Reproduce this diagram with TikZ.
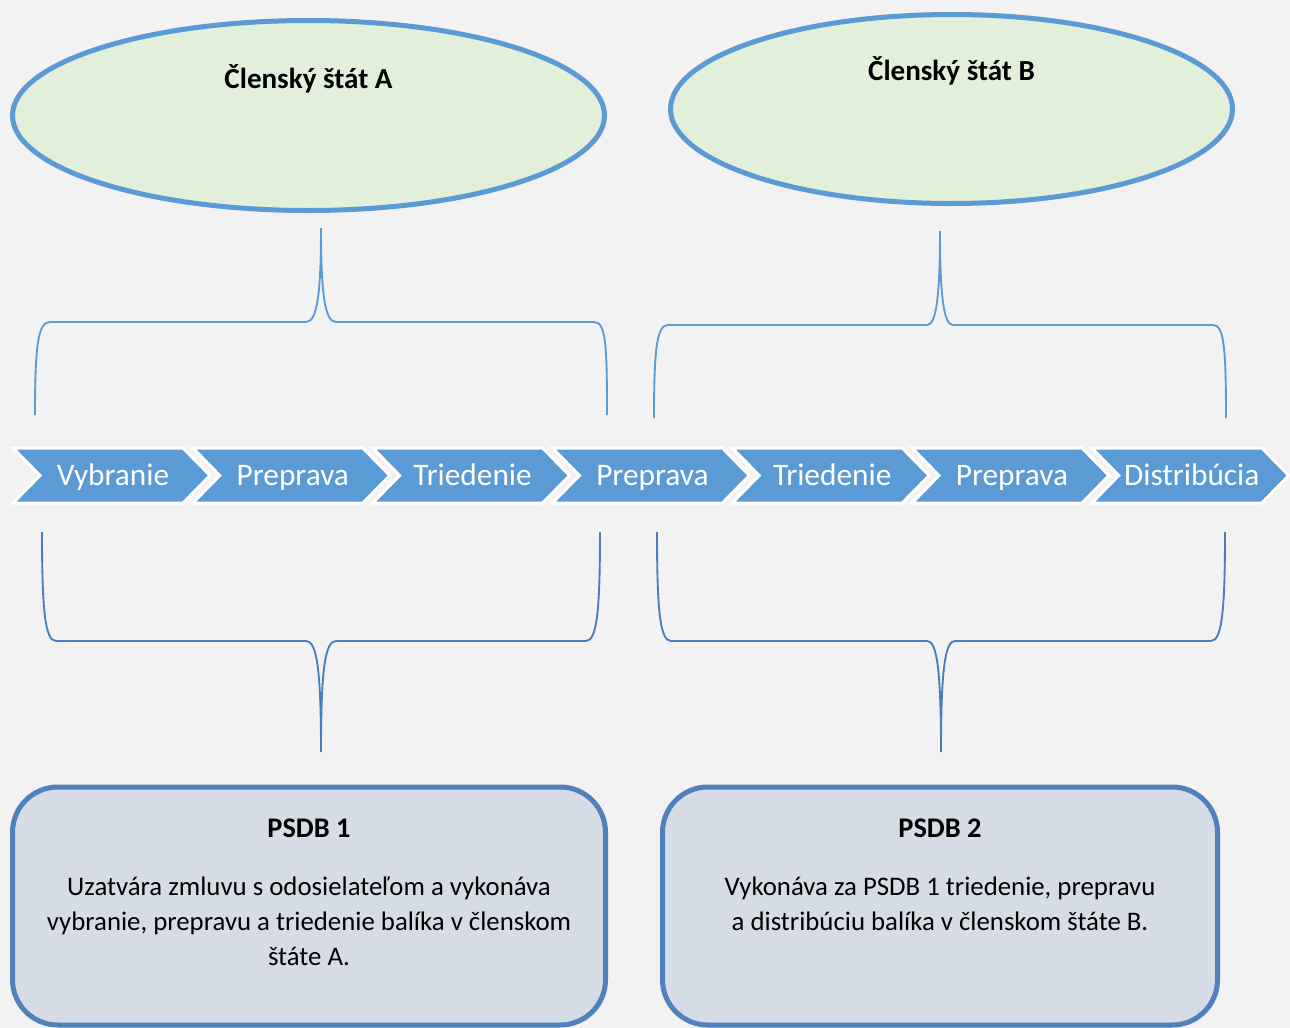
\documentclass[tikz,border=0pt]{standalone}
\usepackage{fontspec}
\setmainfont{Carlito}
\usetikzlibrary{positioning, shapes.geometric, shadows}
\definecolor{bgcol}{HTML}{F2F2F2}
\definecolor{chevblue}{HTML}{5B9BD5}
\definecolor{statefill}{HTML}{E2EFDA}
\definecolor{boxfill}{HTML}{D6DCE5}
\definecolor{boxline}{HTML}{4F81BD}
\definecolor{bracedark}{HTML}{4A7EBB}
\tikzset{%
	state/.style={draw=chevblue, line width=3.75pt, ellipse, fill=statefill, inner sep=0mm},
	statetext/.style={font=\fontsize{21.8}{26}\selectfont\bfseries, anchor=base},
	chev/.style={fill=chevblue, draw=white, line width=2.25pt, line join=miter},
	chevtext/.style={text=white, font=\fontsize{23.5}{28}\selectfont, anchor=base},
	psdb/.style={draw=boxline, line width=3.75pt, rectangle, rounded corners=34pt, fill=boxfill,%
		drop shadow={shadow xshift=1.5pt, shadow yshift=-1.5pt, opacity=0.25}},
	psdbtitle/.style={font=\fontsize{21.3}{26}\selectfont\bfseries, anchor=base},
	psdbtext/.style={font=\fontsize{20.1}{26.25}\selectfont, align=center},
	bracetop/.style={draw=chevblue, line width=1.4pt},
	bracebot/.style={draw=bracedark, line width=1.4pt}
}
\begin{document}
\begin{tikzpicture}[x=0.75pt, y=-0.75pt]
	\useasboundingbox (0,0) rectangle (1290,1028);
	\fill[bgcol] (0,0) rectangle (1290,1028);

	% member states
	\node[state, minimum width=444pt, minimum height=142.5pt] (stA) at (308.5,115.5) {};
	\node[state, minimum width=421.5pt, minimum height=141.75pt] (stB) at (951.5,109) {};
	\node[statetext] (stAt) at ([yshift=20.6pt]stA.center) {Členský štát A};
	\node[statetext] (stBt) at ([yshift=21.75pt]stB.center) {Členský štát B};

	% process steps
	\foreach \lab [count=\i from 0] in {Vybranie, Preprava, Triedenie, Preprava, Triedenie, Preprava, Distribúcia}{
		\pgfmathsetmacro{\xa}{13+179.8*\i}
		\draw[chev] (\xa,448) -- ++(170,0) -- ++(27,27.5) -- ++(-27,27.5) -- ++(-170,0) -- ++(27,-27.5) -- cycle;
		\node[chevtext] (ch\i) at (\xa+100,485) {\lab};
	}

	% braces
	\draw[bracetop] (35,415) .. controls (35,345) and (38,322) .. (50,322) -- (306,322)
		.. controls (317,322) and (321,295) .. (321,228) .. controls (321,295) and (325,322) .. (336,322)
		-- (594,322) .. controls (606,322) and (607,345) .. (607,415);
	\draw[bracetop] (654,418) .. controls (654,348) and (657,325) .. (668,325) -- (927,325)
		.. controls (936,325) and (940,298) .. (940,231) .. controls (940,298) and (944,325) .. (953,325)
		-- (1213,325) .. controls (1224,325) and (1226,348) .. (1226,418);
	\draw[bracebot] (42,532) .. controls (42,610) and (45,641) .. (56,641) -- (306,641)
		.. controls (317,641) and (321,670) .. (321,752) .. controls (321,670) and (325,641) .. (336,641)
		-- (586,641) .. controls (597,641) and (600,610) .. (600,532);
	\draw[bracebot] (657,532) .. controls (657,610) and (660,641) .. (671,641) -- (927,641)
		.. controls (937,641) and (941,670) .. (941,752) .. controls (941,670) and (945,641) .. (955,641)
		-- (1211,641) .. controls (1222,641) and (1225,610) .. (1225,532);

	% providers
	\node[psdb, minimum width=444.75pt, minimum height=178.5pt] (psdbA) at (309,906) {};
	\node[psdb, minimum width=416.25pt, minimum height=178.5pt] (psdbB) at (940,906) {};
	\node[psdbtitle] (psdbAt) at ([yshift=51.75pt]psdbA.center) {PSDB 1};
	\node[psdbtitle] (psdbBt) at ([yshift=51.75pt]psdbB.center) {PSDB 2};
	\node[psdbtext] (psdbAd) at ([yshift=-11.25pt]psdbA.center) {Uzatvára zmluvu s odosielateľom a vykonáva\\vybranie, prepravu a triedenie balíka v členskom\\štáte A.};
	\node[psdbtext] (psdbBd) at ([yshift=1.75pt]psdbB.center) {Vykonáva za PSDB 1 triedenie, prepravu\\a distribúciu balíka v členskom štáte B.};
\end{tikzpicture}
\end{document}
